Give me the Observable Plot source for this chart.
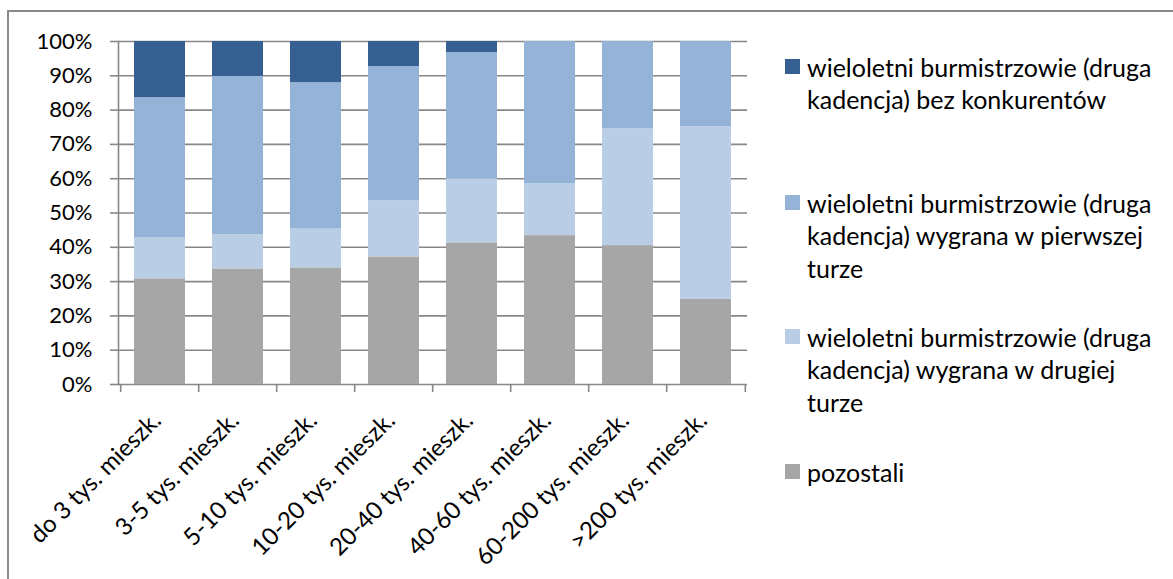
<!DOCTYPE html>
<html>
<head>
<meta charset="utf-8">
<script src="https://cdn.jsdelivr.net/npm/d3@7"></script>
<script src="https://cdn.jsdelivr.net/npm/@observablehq/plot@0.6"></script>
<style>
  html, body { margin: 0; padding: 0; background: #fff; }
  body { position: relative; width: 1173px; height: 579px; overflow: hidden; font-family: Lato, "Open Sans", sans-serif; }
  #frame { position: absolute; left: 7px; top: 10px; width: 1400px; height: 800px; border-left: 2px solid #8a8a8a; border-top: 2px solid #8a8a8a; }
  #chart { position: absolute; left: 0; top: 0; }
  #legend { position: absolute; left: 0; top: 0; }
  .item { position: absolute; left: 807px; font-size: 25px; line-height: 32.5px; color: #000; white-space: nowrap; }
  .sw { position: absolute; left: 785px; width: 15px; height: 15px; }
</style>
</head>
<body>
<div id="frame"></div>
<div id="chart"></div>
<div id="legend"></div>
<script>
// Categories (town size)
const categories = ["do 3 tys. mieszk.", "3-5 tys. mieszk.", "5-10 tys. mieszk.", "10-20 tys. mieszk.", "20-40 tys. mieszk.", "40-60 tys. mieszk.", "60-200 tys. mieszk.", ">200 tys. mieszk."];

// Series names (bottom of stack first)
const seriesPozostali = "pozostali";
const seriesDrugiej = "wieloletni burmistrzowie (druga kadencja) wygrana w drugiej turze";
const seriesPierwszej = "wieloletni burmistrzowie (druga kadencja) wygrana w pierwszej turze";
const seriesBez = "wieloletni burmistrzowie (druga kadencja) bez konkurentów";

// Values in percent
const pozostali = [30.8, 33.7, 34.0, 37.2, 41.3, 43.4, 40.5, 24.8];
const drugiej   = [11.9, 10.0, 11.3, 16.4, 18.7, 15.2, 34.1, 50.3];
const pierwszej = [40.9, 46.1, 42.7, 39.1, 36.8, 41.4, 25.4, 24.9];
const bez       = [16.4, 10.2, 12.0,  7.3,  3.2,  0.0,  0.0,  0.0];

// Y tick values
const yTicks = [0, 10, 20, 30, 40, 50, 60, 70, 80, 90, 100];

// Legend lines (top to bottom)
const legendLines = [
  ["wieloletni burmistrzowie (druga", "kadencja) bez konkurentów"],
  ["wieloletni burmistrzowie (druga", "kadencja) wygrana w pierwszej", "turze"],
  ["wieloletni burmistrzowie (druga", "kadencja) wygrana w drugiej", "turze"],
  ["pozostali"]
];

const stackOrder = [seriesPozostali, seriesDrugiej, seriesPierwszej, seriesBez];
const colors = ["#a6a6a6", "#b9cde5", "#95b3d7", "#376092"];

const seriesData = [
  [seriesPozostali, pozostali],
  [seriesDrugiej, drugiej],
  [seriesPierwszej, pierwszej],
  [seriesBez, bez]
];
const rows = [];
for (const [name, vals] of seriesData) {
  categories.forEach((c, i) => rows.push({category: c, series: name, value: vals[i]}));
}

const W = 760, marginLeft = 118, marginRight = 13;
const step = (W - marginLeft - marginRight) / categories.length;
const gridColor = "#878787";

const chart = Plot.plot({
  width: W,
  height: 579,
  marginLeft, marginRight,
  marginTop: 41,
  marginBottom: 195,
  style: {fontFamily: "Lato, 'Open Sans', sans-serif", fontSize: "22px", color: "#000", background: "transparent", overflow: "visible"},
  x: {domain: categories, paddingInner: 0.34, paddingOuter: 0.17, axis: null, label: null},
  y: {domain: [0, 100], axis: null, label: null},
  color: {domain: stackOrder, range: colors},
  marks: [
    Plot.ruleY(yTicks, {stroke: gridColor, strokeWidth: 1.6}),
    Plot.barY(rows, {x: "category", y: "value", fill: "series", order: stackOrder}),
    Plot.frame({anchor: "left", stroke: gridColor, strokeWidth: 1.6}),
    Plot.axisY(yTicks, {tickSize: 8, tickPadding: 18, tickFormat: d => d + "%", stroke: gridColor, strokeWidth: 1.6, fill: "#000", fontSize: 22, label: null}),
    Plot.axisX({tickSize: 8, tickFormat: () => "", dx: -step / 2, stroke: gridColor, strokeWidth: 1.6, label: null}),
    Plot.axisX([categories[categories.length - 1]], {tickSize: 8, tickFormat: () => "", dx: step / 2, stroke: gridColor, strokeWidth: 1.6, label: null}),
    Plot.axisX({tickSize: 0, tickRotate: -45, tickPadding: 32, dx: -3, fill: "#000", fontSize: 24, label: null})
  ]
});
document.getElementById("chart").appendChild(chart);

// Legend (HTML, beside the SVG)
const legend = document.getElementById("legend");
const legendTops = [50.5, 186.5, 320.5, 455.5];
const legendColors = [colors[3], colors[2], colors[1], colors[0]];
legendLines.forEach((lines, i) => {
  const sw = document.createElement("div");
  sw.className = "sw";
  sw.style.top = (legendTops[i] + 16.25 - 7.5) + "px";
  sw.style.background = legendColors[i];
  legend.appendChild(sw);
  const t = document.createElement("div");
  t.className = "item";
  t.style.top = legendTops[i] + "px";
  t.innerHTML = lines.map(s => s.replace(/&/g, "&amp;").replace(/</g, "&lt;")).join("<br>");
  legend.appendChild(t);
});
</script>
</body>
</html>
